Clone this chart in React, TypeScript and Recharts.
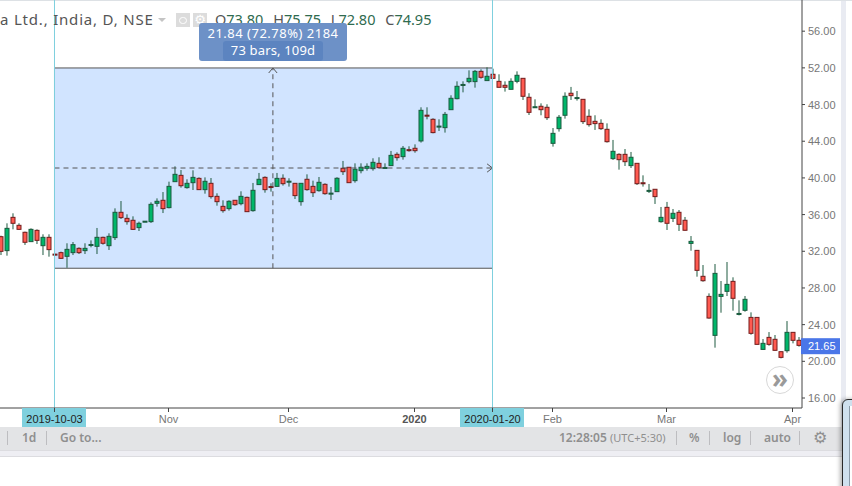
import React from 'react';
import {
  ComposedChart,
  Bar,
  XAxis,
  YAxis,
  ReferenceArea,
  ReferenceLine,
} from 'recharts';

// daily bars. Bar 0 is 2019-10-03, the measure tool runs over bars 0..73
const opens = [
  33.59, 32.07, 35.7, 34.83, 34.07, 33.05, 34.28, 32.61, 33.52,
  31.69, 31.85, 31.45, 31.85, 32.32, 32.07, 32.7, 32.54, 33.52, 32.61,
  33.49, 36.25, 35.59, 35.38, 34.58, 35.24, 35.23, 37.23, 37.56, 36.76,
  39.59, 40.28, 38.94, 39.48, 39.95, 38.72, 39.41, 37.99, 36.9, 36.65,
  37.56, 37.19, 37.88, 36.43, 39.27, 40.06, 39.06, 39.08, 39.96, 39.6,
  39.41, 37.41, 39.85, 39.08, 38.61, 39.3, 38.3, 38.5, 41.05, 41.16,
  39.7, 40.79, 41.05, 41.01, 41.59, 41.1, 41.34, 42.57, 42.32, 43.08,
  43.23, 44.03, 46.84, 46.39, 45.61, 45.48, 47.44, 48.64, 50.15, 50.5,
  50.5, 51.62, 50.61, 51.3, 50.53, 50.1, 49.66, 50.53, 50.86, 48.79,
  47.7, 47.81, 47.7, 43.77, 45.37, 46.83, 49.23, 48.7, 48.57, 46.72,
  46.17, 45.95, 45.3, 42.1, 42.57, 42.57, 41.34, 41.59, 39.47, 38.58,
  38.76, 35.23, 36.79, 35.59, 36.25, 35.38, 32.86, 32.1, 29.27, 27.08,
  22.83, 27.08, 27.63, 28.72, 25.14, 25.56, 24.79, 24.79, 21.3, 22.61,
  22.4, 21.05, 21.16, 23.16, 22.29,
];
const highs = [
  33.7, 35.05, 36.14, 35.05, 34.14, 34.5, 34.39, 33.85, 33.85,
  31.72, 31.96, 32.87, 33.01, 32.43, 32.87, 33.19, 34.54, 33.59, 33.96,
  36.68, 37.48, 36.03, 35.81, 35.23, 35.3, 37.34, 37.77, 38.46, 39.59,
  41.26, 40.86, 39.85, 40.83, 40.06, 40.06, 39.99, 38.32, 37.56, 37.56,
  37.59, 38.54, 37.96, 39.45, 40.54, 40.17, 39.41, 40.54, 40.39, 39.96,
  39.41, 39.41, 40.39, 39.7, 40.1, 39.41, 39.01, 40.07, 41.85, 41.16,
  41.59, 41.59, 41.59, 42.14, 42.25, 41.59, 42.94, 42.79, 43.48, 43.45,
  43.66, 47.7, 47.7, 46.5, 46.39, 47.19, 49.01, 50.53, 50.53, 51.73,
  51.77, 51.84, 52.06, 51.91, 51.3, 50.53, 50.86, 51.62, 50.86, 49.23,
  48.57, 48.13, 48.03, 45.44, 46.86, 49.33, 49.92, 49.48, 48.57, 47.48,
  46.83, 46.39, 45.95, 44.14, 42.68, 43.15, 42.83, 41.59, 40.28, 39.34,
  38.76, 36.83, 37.38, 36.61, 36.5, 35.74, 33.66, 32.14, 30.5, 27.41,
  30.61, 28.76, 30.83, 29.16, 26.65, 27.12, 25.34, 24.79, 22.43, 23.19,
  22.87, 21.05, 24.39, 23.16, 22.65,
];
const lows = [
  31.59, 31.52, 34.39, 34.32, 32.69, 33.05, 32.79, 31.59, 31.41,
  31.55, 31.19, 30.2, 31.59, 31.7, 31.7, 32.43, 31.7, 32.72, 32.14,
  33.23, 35.52, 34.9, 34.32, 34.21, 35.22, 35.09, 36.87, 36.17, 36.68,
  39.59, 38.94, 38.83, 38.68, 38.68, 38.28, 37.74, 36.97, 36.21, 36.43,
  36.97, 37.01, 36.32, 36.32, 39.23, 38.39, 38.5, 39.05, 39.16, 39.05,
  37.7, 36.97, 38.61, 37.92, 38.5, 38.17, 37.59, 38.5, 40.32, 39.48,
  39.48, 40.5, 40.79, 40.79, 41.05, 41.05, 41.3, 41.88, 41.99, 42.86,
  42.75, 43.85, 46.39, 44.86, 45.12, 44.94, 47.44, 48.57, 49.33, 50.32,
  49.84, 50.82, 50.61, 50.86, 49.88, 49.41, 49.66, 50.32, 48.5, 46.86,
  47.66, 46.83, 46.32, 43.41, 45.05, 46.46, 48.5, 48.43, 45.88, 45.59,
  45.23, 45.23, 43.85, 41.96, 40.9, 41.3, 41.08, 39.23, 39.05, 38.36,
  37.16, 35.12, 34.32, 35.19, 34.21, 34.25, 32.06, 29.23, 28.68, 24.65,
  21.49, 25.3, 27.12, 25.52, 25.01, 25.41, 22.9, 21.85, 21.27, 21.7,
  21.16, 20.32, 20.94, 21.96, 21.6,
];
const closes = [
  31.99, 34.5, 35.05, 34.39, 32.98, 34.39, 33.19, 33.52, 32.18,
  31.59, 31.23, 32.21, 32.72, 31.85, 32.32, 32.74, 33.52, 32.87, 33.63,
  36.25, 35.67, 35.23, 34.39, 35.05, 35.28, 37.12, 37.45, 36.65, 39.08,
  40.39, 39.15, 39.41, 40.06, 38.72, 39.63, 37.96, 37.41, 36.43, 37.45,
  37.08, 37.99, 36.32, 38.65, 39.85, 38.72, 38.97, 39.95, 39.37, 39.64,
  38.07, 39.41, 38.72, 38.39, 39.52, 38.28, 38.34, 39.96, 40.68, 39.48,
  40.94, 41.16, 41.26, 41.7, 41.12, 41.14, 42.46, 42.21, 43.23, 43.0,
  42.97, 47.37, 46.8, 44.94, 45.65, 46.93, 48.68, 49.99, 50.19, 50.86,
  51.62, 50.97, 51.08, 50.86, 49.88, 49.88, 50.53, 51.19, 48.9, 47.15,
  47.76, 47.44, 46.57, 44.86, 46.61, 48.9, 48.97, 48.76, 46.14, 45.81,
  45.92, 45.37, 43.95, 42.9, 41.99, 41.77, 42.25, 39.37, 39.39, 38.64,
  37.96, 35.7, 35.05, 36.14, 34.94, 34.29, 33.08, 29.92, 28.79, 24.72,
  29.59, 27.3, 28.39, 26.87, 25.22, 26.76, 23.05, 21.85, 21.96, 21.85,
  21.2, 20.43, 23.16, 22.29, 21.74,
];

const firstBar = -9;
const priceTicks = [16, 20, 24, 28, 32, 36, 40, 44, 48, 52, 56];
const lastPrice = 21.65;

const timeTicks = [0, 19, 39, 60, 73, 83, 102, 123];
const timeLabels: Record<number, string> = {
  0: '2019-10-03',
  19: 'Nov',
  39: 'Dec',
  60: '2020',
  73: '2020-01-20',
  83: 'Feb',
  102: 'Mar',
  123: 'Apr',
};

// measure tool
const measureStart = 0;
const measureEnd = 73;
const measureLow = 30.15;
const measureHigh = 51.99;
const measureMidBar = 36.4;
const measureMidPrice = 41.08;

const data = opens.map((open, i) => ({
  bar: i + firstBar,
  open,
  high: highs[i],
  low: lows[i],
  close: closes[i],
  range: [lows[i], highs[i]],
}));

const UP_FILL = '#00b66a';
const UP_EDGE = '#1b5a3e';
const DOWN_FILL = '#ff5a50';
const DOWN_EDGE = '#741c1c';
const WICK = '#1f5a40';
const AXIS_TEXT = '#777777';
const TOOL_LINE = '#555555';
const CYAN = '#7fd0de';
const LABEL_FONT = '"Liberation Sans", Arial, sans-serif';
const UI_FONT = '"Noto Sans", sans-serif';

const Candle = (props: any) => {
  const { x, y, width, height, payload } = props;
  const { open, close, high, low } = payload;
  const cx = x + width / 2;
  const perUnit = height / (high - low);
  const top = y + (high - Math.max(open, close)) * perUnit;
  const bodyHeight = Math.max(Math.abs(open - close) * perUnit, 1);
  const up = close >= open;
  return (
    <g>
      <line x1={cx} x2={cx} y1={y} y2={y + height} stroke={WICK} />
      <rect
        x={cx - 2}
        y={top}
        width={4}
        height={bodyHeight}
        fill={up ? UP_FILL : DOWN_FILL}
        stroke={up ? UP_EDGE : DOWN_EDGE}
      />
    </g>
  );
};

const TimeTick = (props: any) => {
  const { x, payload } = props;
  const value = payload.value as number;
  const text = timeLabels[value];
  const marked = value === measureStart || value === measureEnd;
  return (
    <g fontFamily={LABEL_FONT} fontSize={11}>
      {marked && <rect x={x - 32.5} y={408} width={64} height={19} fill={CYAN} />}
      <line x1={x} x2={x} y1={408} y2={412} stroke="#444" />
      <text
        x={x}
        y={423}
        textAnchor="middle"
        fill={marked ? '#222' : text === '2020' ? '#555' : AXIS_TEXT}
        fontWeight={text === '2020' ? 700 : 400}
      >
        {text}
      </text>
    </g>
  );
};

const PriceTick = (props: any) => {
  const { y, payload } = props;
  const isLast = payload.value === lastPrice;
  return (
    <g fontFamily={LABEL_FONT} fontSize={11}>
      {isLast && <rect x={801} y={y - 8} width={39} height={16} fill="#4a76e8" />}
      {!isLast && <line x1={802} x2={805} y1={y} y2={y} stroke="#444" />}
      <text x={808} y={y + 4} fill={isLast ? '#fff' : AXIS_TEXT}>
        {payload.value.toFixed(2)}
      </text>
    </g>
  );
};

const barText: React.CSSProperties = {
  position: 'absolute',
  top: 430,
  fontFamily: UI_FONT,
  fontSize: 12,
  fontWeight: 600,
  color: '#8f8f8f',
  lineHeight: '16px',
  whiteSpace: 'nowrap',
};

const Sep = ({ x }: { x: number }) => (
  <div style={{ position: 'absolute', left: x, top: 431, width: 1, height: 14, background: '#bdbdc0' }} />
);

const App = () => {
  return (
    <div style={{ position: 'absolute', left: 0, top: 0, width: 852, height: 486, background: '#fff', overflow: 'hidden' }}>
      <div style={{ position: 'absolute', left: 0, top: 0, width: 852, height: 1, background: '#dde1e5' }} />

      <ComposedChart
        width={852}
        height={428}
        data={data}
        margin={{ top: 0, right: 0, bottom: 0, left: 0 }}
        style={{ position: 'absolute', left: 0, top: 0 }}
      >
        <XAxis
          dataKey="bar"
          type="number"
          domain={[-9.083, 124.583]}
          allowDataOverflow
          ticks={timeTicks}
          tick={<TimeTick />}
          tickLine={false}
          axisLine={{ stroke: '#444' }}
          height={20}
          interval={0}
        />
        <YAxis
          orientation="right"
          type="number"
          domain={[14.91, 59.4]}
          allowDataOverflow
          ticks={[...priceTicks, lastPrice]}
          tick={<PriceTick />}
          tickLine={false}
          axisLine={{ stroke: '#444' }}
          width={50}
          interval={0}
        />
        <ReferenceArea
          x1={measureStart}
          x2={measureEnd}
          y1={measureLow}
          y2={measureHigh}
          fill="#d1e4ff"
          fillOpacity={1}
          stroke={TOOL_LINE}
        />
        <ReferenceLine
          segment={[{ x: measureStart, y: measureMidPrice }, { x: measureEnd, y: measureMidPrice }]}
          stroke={TOOL_LINE}
          strokeDasharray="5 4"
        />
        <ReferenceLine
          segment={[{ x: measureMidBar, y: measureLow }, { x: measureMidBar, y: measureHigh }]}
          stroke={TOOL_LINE}
          strokeDasharray="5 4"
        />
        {/* arrow heads */}
        <ReferenceLine segment={[{ x: measureEnd - 0.9, y: measureMidPrice + 0.45 }, { x: measureEnd, y: measureMidPrice }]} stroke={TOOL_LINE} />
        <ReferenceLine segment={[{ x: measureEnd - 0.9, y: measureMidPrice - 0.45 }, { x: measureEnd, y: measureMidPrice }]} stroke={TOOL_LINE} />
        <ReferenceLine segment={[{ x: measureMidBar - 0.7, y: measureHigh - 0.55 }, { x: measureMidBar, y: measureHigh }]} stroke={TOOL_LINE} />
        <ReferenceLine segment={[{ x: measureMidBar + 0.7, y: measureHigh - 0.55 }, { x: measureMidBar, y: measureHigh }]} stroke={TOOL_LINE} />

        <ReferenceLine x={measureStart} stroke={CYAN} />
        <ReferenceLine x={measureEnd} stroke={CYAN} />

        <Bar dataKey="range" barSize={5} shape={<Candle />} isAnimationActive={false} />
      </ComposedChart>

      {/* right hand strip of the page */}
      <div style={{ position: 'absolute', left: 841, top: 1, width: 5, height: 426, background: '#e9ebf2' }} />

      {/* legend row */}
      <div style={{ position: 'absolute', left: 0, top: 9, fontFamily: UI_FONT, fontSize: 15, letterSpacing: 0.8, lineHeight: '20px', color: '#555', whiteSpace: 'nowrap' }}>
        a Ltd., India, D, NSE
      </div>
      <div style={{ position: 'absolute', left: 158, top: 18, width: 0, height: 0, borderLeft: '4px solid transparent', borderRight: '4px solid transparent', borderTop: '4px solid #c4c4c4' }} />
      <div style={{ position: 'absolute', left: 176, top: 13, width: 14, height: 14, background: '#dcdcdc' }} />
      <div style={{ position: 'absolute', left: 179, top: 17, width: 6, height: 5, borderRadius: 4, border: '1.5px solid #fff' }} />
      <div style={{ position: 'absolute', left: 193, top: 13, width: 14, height: 14, background: '#dcdcdc', color: '#fff', fontFamily: '"DejaVu Sans", sans-serif', fontSize: 13, lineHeight: '14px', textAlign: 'center' }}>⚙</div>
      <div style={{ position: 'absolute', left: 215, top: 9, fontFamily: UI_FONT, fontSize: 14.5, lineHeight: '20px', color: '#2f6b4f', whiteSpace: 'nowrap' }}>
        <span style={{ color: '#555' }}>O</span>73.80{' '}
        <span style={{ color: '#555', marginLeft: 6 }}>H</span>75.75{' '}
        <span style={{ color: '#555', marginLeft: 6 }}>L</span>72.80{' '}
        <span style={{ color: '#555', marginLeft: 6 }}>C</span>74.95
      </div>

      {/* measure bubble */}
      <div style={{ position: 'absolute', left: 199, top: 23, width: 148, height: 38, borderRadius: 3, background: '#6d91c7' }} />
      <div style={{ position: 'absolute', left: 223, top: 41, width: 100, height: 20, borderRadius: 3, background: '#5c84c0' }} />
      <div style={{ position: 'absolute', left: 199, top: 25, width: 148, textAlign: 'center', fontFamily: UI_FONT, fontSize: 13, letterSpacing: 0.5, lineHeight: '17px', color: '#fff' }}>
        21.84 (72.78%) 2184
      </div>
      <div style={{ position: 'absolute', left: 223, top: 42, width: 100, textAlign: 'center', fontFamily: UI_FONT, fontSize: 13, letterSpacing: 0.15, lineHeight: '17px', color: '#fff' }}>
        73 bars, 109d
      </div>

      {/* go to realtime button */}
      <div style={{ position: 'absolute', left: 766, top: 366, width: 26, height: 26, borderRadius: 14, background: '#fff', border: '1px solid #d8d8d8', textAlign: 'center', fontFamily: UI_FONT, fontSize: 26, fontWeight: 700, lineHeight: '22px', color: '#9a9a9a' }}>
        »
      </div>

      {/* bottom toolbar */}
      <div style={{ position: 'absolute', left: 0, top: 427, width: 845, height: 23, background: '#e3e4e6' }} />
      <div style={{ position: 'absolute', left: 0, top: 450, width: 845, height: 5, background: '#eeeef3', borderTop: '1px solid #dcdce0', borderBottom: '1px solid #dcdce0' }} />
      <Sep x={7} />
      <div style={{ ...barText, left: 22 }}>1d</div>
      <Sep x={46} />
      <div style={{ ...barText, left: 60 }}>Go to...</div>
      <div style={{ ...barText, left: 559 }}>12:28:05 <span style={{ fontWeight: 400, fontSize: 11 }}>(UTC+5:30)</span></div>
      <Sep x={676} />
      <div style={{ ...barText, left: 689 }}>%</div>
      <Sep x={709} />
      <div style={{ ...barText, left: 723 }}>log</div>
      <Sep x={750} />
      <div style={{ ...barText, left: 764 }}>auto</div>
      <Sep x={799} />
      <div style={{ ...barText, left: 813, fontFamily: '"DejaVu Sans", sans-serif', fontSize: 16 }}>⚙</div>

      {/* corner of the window in front */}
      <div style={{ position: 'absolute', left: 842, top: 399, width: 30, height: 110, boxSizing: 'border-box', borderRadius: 6, background: '#cfe0ee', border: '1.5px solid #2a2a2a', boxShadow: '-2px 0 4px rgba(0,0,0,0.3)' }} />
      <div style={{ position: 'absolute', left: 849, top: 406, width: 10, height: 90, background: '#fff', borderLeft: '1px solid #8a9aa8' }} />
    </div>
  );
};

export default App;
